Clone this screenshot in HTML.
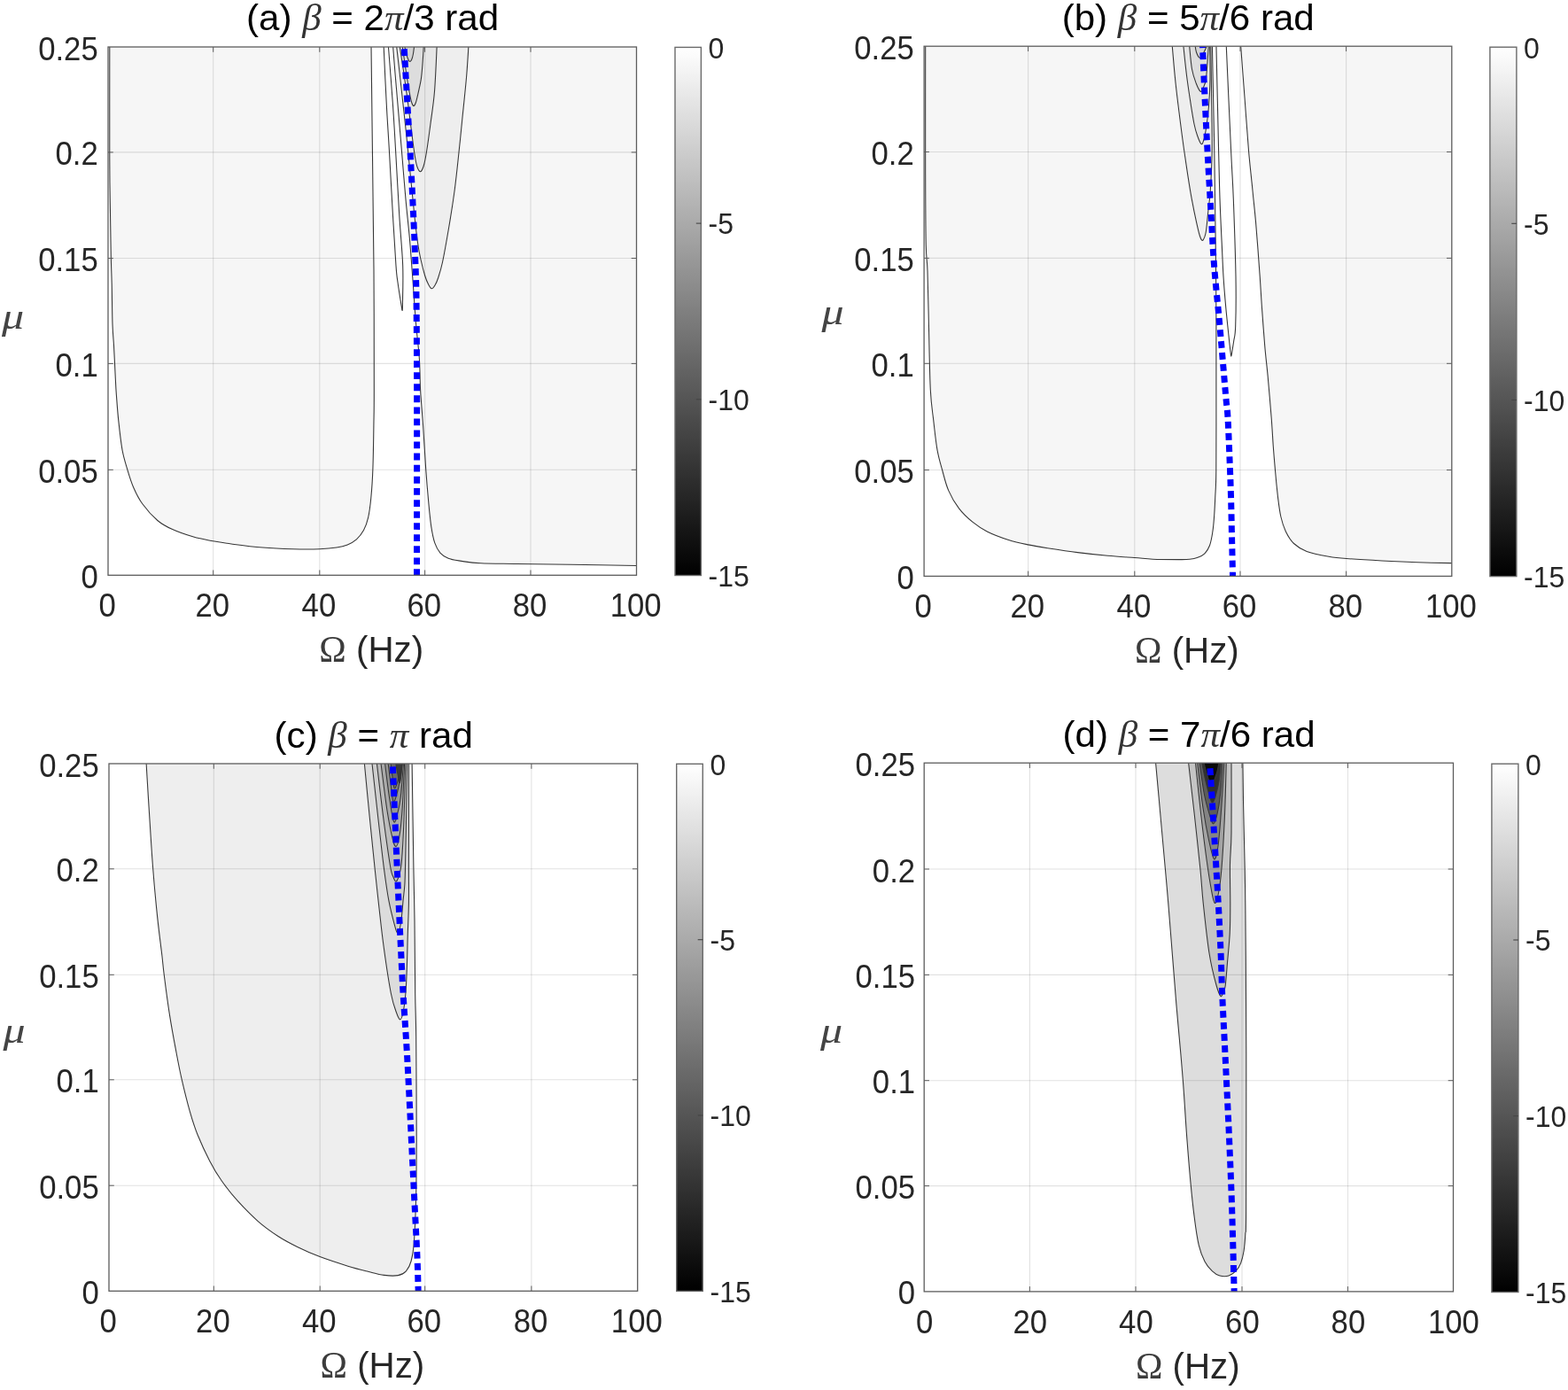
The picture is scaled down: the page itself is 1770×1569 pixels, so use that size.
<!DOCTYPE html>
<html lang="en">
<head>
<meta charset="utf-8">
<title>Contour maps versus frequency and mass ratio</title>
<style>
html,body{margin:0;padding:0;background:#fff;}
body{width:1770px;height:1569px;overflow:hidden;}
svg{display:block;}
</style>
</head>
<body>
<svg width="1770" height="1569" viewBox="0 0 1770 1569">
<rect width="1770" height="1569" fill="#fff"/>
<clipPath id="clip1"><rect x="122" y="53" width="596.5" height="596.3"/></clipPath>
<g clip-path="url(#clip1)">
<path d="M123.8 51C123.8 72.5 123.7 148.5 123.8 180C123.9 211.5 124.2 221.7 124.5 240C124.8 258.3 125 276.7 125.3 290C125.6 303.3 125.9 307.3 126.2 320C126.5 332.7 126.6 354.3 127 366C127.4 377.7 128.1 382.7 128.5 390C128.9 397.3 129.2 403.8 129.5 410C129.8 416.2 130 421 130.3 427C130.6 433 130.8 438.2 131.4 446C132 453.8 132.6 463.6 133.7 473.9C134.8 484.2 136.3 498.4 138 507.8C139.7 517.2 141.8 523.2 143.9 530.3C146 537.4 147.9 543.8 150.7 550.2C153.5 556.6 156.3 562.6 160.8 568.8C165.3 575 172.2 582.7 177.8 587.5C183.5 592.3 187.9 594.5 194.7 597.6C201.5 600.7 210.9 603.9 218.5 606.1C226.1 608.3 233.2 609.4 240.5 610.8C247.8 612.1 253.2 613 262.5 614.2C271.8 615.4 285.1 617.1 296.4 618C307.7 618.9 319.6 619.4 330.3 619.7C341 620 352.5 620 360.8 619.7C369.1 619.4 374.8 618.8 380 618C385.2 617.2 388.5 616.4 392.2 614.9C395.9 613.4 399.3 611.5 402.4 608.8C405.4 606.1 408.3 602.7 410.5 598.6C412.7 594.5 414.2 590.5 415.6 584.4C417 578.3 417.9 571.2 418.8 562C419.7 552.8 420.4 542.7 420.9 529C421.4 515.3 421.7 494.8 421.9 480C422.1 465.2 422.3 469.2 422.3 440C422.3 410.8 422.3 349 422 305C421.7 261 421 218.3 420.5 176C420 133.7 419.2 71.8 419 51Z" fill="#f6f6f6"/>
<path d="M443.5 51C443.9 56.7 445.2 72.7 446.2 85C447.2 97.3 448.4 110.8 449.6 125C450.8 139.2 452 153.5 453.4 170C454.8 186.5 456.4 207.4 457.9 224C459.4 240.6 461.2 255.9 462.4 269.5C463.6 283.1 464.5 296.4 465.2 305.7C465.9 314.9 465.9 315.1 466.6 325C467.3 334.9 468.4 351.8 469.5 365C470.6 378.2 472.4 391.5 473.3 404C474.2 416.5 473.9 427.2 474.6 440C475.3 452.8 476.6 465.8 477.6 480.7C478.6 495.6 479.7 515.3 480.7 529.5C481.7 543.7 482.7 555.2 483.7 566.1C484.7 577 485.6 586.8 486.8 594.6C488 602.4 489.1 608 490.8 612.9C492.5 617.8 494.3 621.2 496.9 624.1C499.4 627 501.9 628.6 506.1 630.2C510.4 631.8 516.3 632.7 522.4 633.6C528.5 634.5 532.5 635.2 542.7 635.7C552.9 636.2 566.5 636.2 583.4 636.5C600.3 636.8 621.5 637 644.4 637.3C667.2 637.6 707.8 638.3 720.5 638.5L720.5 51Z" fill="#f6f6f6"/>
<path d="M529 51C528.6 56.7 527.8 72 526.7 85.2C525.6 98.5 523.7 116 522.2 130.5C520.8 145 519.5 157.9 518 172C516.5 186.1 515 201.2 513.1 215.2C511.2 229.2 509.1 242.5 506.8 256C504.5 269.5 501.6 286.3 499.5 296C497.4 305.7 495.9 309.7 494.5 314C493.1 318.3 492.2 320 491 322C489.8 324 488.5 326 487.3 325.8C486.1 325.6 484.9 323.5 483.6 321C482.3 318.5 481 315.7 479.6 311C478.2 306.3 476.4 299.2 475 293C473.6 286.8 472.8 282.8 471.5 274C470.2 265.2 468.8 252.3 467.5 240C466.2 227.7 465 215 463.5 200C462 185 460.3 167.5 458.5 150C456.7 132.5 454.3 111.5 452.5 95C450.7 78.5 448.3 58.3 447.5 51Z" fill="#eeeeee"/>
<path d="M493.2 51C492.8 59.7 491.7 88.5 490.5 103.3C489.3 118 487.5 128.1 486 139.5C484.5 150.9 482.7 164.1 481.4 172C480.1 179.9 479.4 183.4 478.3 187C477.2 190.6 475.9 193.4 474.7 193.7C473.5 194 472.3 191.9 471.2 189C470.1 186.1 469.3 182.2 468.3 176C467.3 169.8 466.2 161.3 465 152C463.8 142.7 462.6 132 461 120C459.4 108 457.2 91.5 455.5 80C453.8 68.5 451.8 55.8 451 51Z" fill="#e6e6e6"/>
<path d="M478.3 51C478.1 54.5 477.5 65.6 477 72.1C476.5 78.6 476.1 84.2 475.2 90.2C474.2 96.2 472.3 104 471.3 108.3C470.3 112.6 470 114.1 469.3 116C468.6 117.9 467.8 119.6 467 119.6C466.2 119.6 465.6 118.4 464.8 116C464 113.6 463.3 110.2 462.3 105C461.3 99.8 460.4 94 459 85C457.6 76 454.8 56.7 454 51Z" fill="#dddddd"/>
<path d="M467.7 51C467.5 52.7 466.9 58.3 466.4 61C465.9 63.7 465.4 65.6 464.8 67C464.2 68.4 463.5 69.4 462.9 69.5C462.3 69.6 461.6 68.8 461 67.5C460.4 66.2 459.8 64.8 459 62C458.2 59.2 456.9 52.8 456.5 51Z" fill="#d4d4d4"/>
<g fill="none" stroke="#363636" stroke-width="1.08" stroke-linejoin="round">
<path d="M123.8 51C123.8 72.5 123.7 148.5 123.8 180C123.9 211.5 124.2 221.7 124.5 240C124.8 258.3 125 276.7 125.3 290C125.6 303.3 125.9 307.3 126.2 320C126.5 332.7 126.6 354.3 127 366C127.4 377.7 128.1 382.7 128.5 390C128.9 397.3 129.2 403.8 129.5 410C129.8 416.2 130 421 130.3 427C130.6 433 130.8 438.2 131.4 446C132 453.8 132.6 463.6 133.7 473.9C134.8 484.2 136.3 498.4 138 507.8C139.7 517.2 141.8 523.2 143.9 530.3C146 537.4 147.9 543.8 150.7 550.2C153.5 556.6 156.3 562.6 160.8 568.8C165.3 575 172.2 582.7 177.8 587.5C183.5 592.3 187.9 594.5 194.7 597.6C201.5 600.7 210.9 603.9 218.5 606.1C226.1 608.3 233.2 609.4 240.5 610.8C247.8 612.1 253.2 613 262.5 614.2C271.8 615.4 285.1 617.1 296.4 618C307.7 618.9 319.6 619.4 330.3 619.7C341 620 352.5 620 360.8 619.7C369.1 619.4 374.8 618.8 380 618C385.2 617.2 388.5 616.4 392.2 614.9C395.9 613.4 399.3 611.5 402.4 608.8C405.4 606.1 408.3 602.7 410.5 598.6C412.7 594.5 414.2 590.5 415.6 584.4C417 578.3 417.9 571.2 418.8 562C419.7 552.8 420.4 542.7 420.9 529C421.4 515.3 421.7 494.8 421.9 480C422.1 465.2 422.3 469.2 422.3 440C422.3 410.8 422.3 349 422 305C421.7 261 421 218.3 420.5 176C420 133.7 419.2 71.8 419 51"/>
<path d="M443.5 51C443.9 56.7 445.2 72.7 446.2 85C447.2 97.3 448.4 110.8 449.6 125C450.8 139.2 452 153.5 453.4 170C454.8 186.5 456.4 207.4 457.9 224C459.4 240.6 461.2 255.9 462.4 269.5C463.6 283.1 464.5 296.4 465.2 305.7C465.9 314.9 465.9 315.1 466.6 325C467.3 334.9 468.4 351.8 469.5 365C470.6 378.2 472.4 391.5 473.3 404C474.2 416.5 473.9 427.2 474.6 440C475.3 452.8 476.6 465.8 477.6 480.7C478.6 495.6 479.7 515.3 480.7 529.5C481.7 543.7 482.7 555.2 483.7 566.1C484.7 577 485.6 586.8 486.8 594.6C488 602.4 489.1 608 490.8 612.9C492.5 617.8 494.3 621.2 496.9 624.1C499.4 627 501.9 628.6 506.1 630.2C510.4 631.8 516.3 632.7 522.4 633.6C528.5 634.5 532.5 635.2 542.7 635.7C552.9 636.2 566.5 636.2 583.4 636.5C600.3 636.8 621.5 637 644.4 637.3C667.2 637.6 707.8 638.3 720.5 638.5"/>
<path d="M529 51C528.6 56.7 527.8 72 526.7 85.2C525.6 98.5 523.7 116 522.2 130.5C520.8 145 519.5 157.9 518 172C516.5 186.1 515 201.2 513.1 215.2C511.2 229.2 509.1 242.5 506.8 256C504.5 269.5 501.6 286.3 499.5 296C497.4 305.7 495.9 309.7 494.5 314C493.1 318.3 492.2 320 491 322C489.8 324 488.5 326 487.3 325.8C486.1 325.6 484.9 323.5 483.6 321C482.3 318.5 481 315.7 479.6 311C478.2 306.3 476.4 299.2 475 293C473.6 286.8 472.8 282.8 471.5 274C470.2 265.2 468.8 252.3 467.5 240C466.2 227.7 465 215 463.5 200C462 185 460.3 167.5 458.5 150C456.7 132.5 454.3 111.5 452.5 95C450.7 78.5 448.3 58.3 447.5 51"/>
<path d="M493.2 51C492.8 59.7 491.7 88.5 490.5 103.3C489.3 118 487.5 128.1 486 139.5C484.5 150.9 482.7 164.1 481.4 172C480.1 179.9 479.4 183.4 478.3 187C477.2 190.6 475.9 193.4 474.7 193.7C473.5 194 472.3 191.9 471.2 189C470.1 186.1 469.3 182.2 468.3 176C467.3 169.8 466.2 161.3 465 152C463.8 142.7 462.6 132 461 120C459.4 108 457.2 91.5 455.5 80C453.8 68.5 451.8 55.8 451 51"/>
<path d="M478.3 51C478.1 54.5 477.5 65.6 477 72.1C476.5 78.6 476.1 84.2 475.2 90.2C474.2 96.2 472.3 104 471.3 108.3C470.3 112.6 470 114.1 469.3 116C468.6 117.9 467.8 119.6 467 119.6C466.2 119.6 465.6 118.4 464.8 116C464 113.6 463.3 110.2 462.3 105C461.3 99.8 460.4 94 459 85C457.6 76 454.8 56.7 454 51"/>
<path d="M467.7 51C467.5 52.7 466.9 58.3 466.4 61C465.9 63.7 465.4 65.6 464.8 67C464.2 68.4 463.5 69.4 462.9 69.5C462.3 69.6 461.6 68.8 461 67.5C460.4 66.2 459.8 64.8 459 62C458.2 59.2 456.9 52.8 456.5 51"/>
<path d="M433.1 51C433.6 61.8 435.1 96.2 436.2 116C437.2 135.8 438.2 149 439.4 170C440.6 191 442.1 220.3 443.4 242C444.7 263.7 446.1 287.3 447 300C447.9 312.7 448.1 312 448.9 318C449.7 324 450.9 331.2 451.6 336C452.4 340.8 453 344.7 453.4 347C453.8 349.3 453.7 350.3 453.9 350C454.1 349.7 454.3 353.3 454.4 345C454.5 336.7 455.3 317.2 454.7 300C454.1 282.8 452 263.7 450.7 242C449.4 220.3 447.8 191 446.6 170C445.4 149 444.7 135.8 443.3 116C441.9 96.2 439.1 61.8 438.3 51"/>
</g>
<g stroke="#262626" stroke-opacity="0.135" stroke-width="1.1">
<line x1="240.7" y1="53" x2="240.7" y2="649.3"/>
<line x1="360.8" y1="53" x2="360.8" y2="649.3"/>
<line x1="479.6" y1="53" x2="479.6" y2="649.3"/>
<line x1="599" y1="53" x2="599" y2="649.3"/>
<line x1="122" y1="171.9" x2="718.5" y2="171.9"/>
<line x1="122" y1="291.5" x2="718.5" y2="291.5"/>
<line x1="122" y1="410.4" x2="718.5" y2="410.4"/>
<line x1="122" y1="530.3" x2="718.5" y2="530.3"/>
</g>
<path d="M456.1 51C456.7 61.8 458.6 95.2 459.8 116C461 136.8 462.2 155.3 463.3 176C464.4 196.7 465.5 218.5 466.5 240C467.5 261.5 468.6 287.5 469.2 305C469.8 322.5 469.9 322.5 470.1 345C470.3 367.5 470.5 388.9 470.6 440C470.7 491.1 470.5 616.1 470.5 651.3" fill="none" stroke="#0000ff" stroke-width="7" stroke-dasharray="7.8 5.25" stroke-dashoffset="8.7"/>
</g>
<g fill="none" stroke="#5c5c5c" stroke-width="1.3">
<rect x="122" y="53" width="596.5" height="596.3"/>
</g><g fill="none" stroke="#5c5c5c" stroke-width="1">
<path d="M240.7 649.3v-5.8 M240.7 53v5.8"/>
<path d="M360.8 649.3v-5.8 M360.8 53v5.8"/>
<path d="M479.6 649.3v-5.8 M479.6 53v5.8"/>
<path d="M599 649.3v-5.8 M599 53v5.8"/>
<path d="M122 171.9h5.8 M718.5 171.9h-5.8"/>
<path d="M122 291.5h5.8 M718.5 291.5h-5.8"/>
<path d="M122 410.4h5.8 M718.5 410.4h-5.8"/>
<path d="M122 530.3h5.8 M718.5 530.3h-5.8"/>
</g>
<g font-family="'Liberation Sans', Arial, sans-serif" font-size="34.7" fill="#262626">
<text transform="translate(121.1 696.2) scale(1 1.04)" text-anchor="middle">0</text>
<text transform="translate(239.8 696.2) scale(1 1.04)" text-anchor="middle">20</text>
<text transform="translate(359.9 696.2) scale(1 1.04)" text-anchor="middle">40</text>
<text transform="translate(478.7 696.2) scale(1 1.04)" text-anchor="middle">60</text>
<text transform="translate(598.1 696.2) scale(1 1.04)" text-anchor="middle">80</text>
<text transform="translate(717.6 696.2) scale(1 1.04)" text-anchor="middle">100</text>
<text transform="translate(110.7 67.5) scale(1 1.04)" text-anchor="end">0.25</text>
<text transform="translate(110.7 186.4) scale(1 1.04)" text-anchor="end">0.2</text>
<text transform="translate(110.7 306) scale(1 1.04)" text-anchor="end">0.15</text>
<text transform="translate(110.7 424.9) scale(1 1.04)" text-anchor="end">0.1</text>
<text transform="translate(110.7 544.8) scale(1 1.04)" text-anchor="end">0.05</text>
<text transform="translate(110.7 663.8) scale(1 1.04)" text-anchor="end">0</text>
</g>
<text transform="translate(419.2 747.1) scale(1 1.02)" text-anchor="middle" font-family="'Liberation Sans', Arial, sans-serif" font-size="40.3" fill="#262626"><tspan font-family="'Liberation Serif', 'DejaVu Serif', serif" font-size="41" fill="#3c3c3c">Ω</tspan> (Hz)</text>
<text transform="translate(14.5 370.6) scale(1.22 1)" text-anchor="middle" font-family="'Liberation Serif', 'DejaVu Serif', serif" font-style="italic" font-size="41" fill="#444">μ</text>
<text transform="translate(420.6 33.5) scale(1 0.975)" text-anchor="middle" font-family="'Liberation Sans', Arial, sans-serif" font-size="42.1" fill="#000">(a) <tspan font-family="'Liberation Serif', 'DejaVu Serif', serif" font-style="italic" font-size="43" fill="#333">β</tspan> = 2<tspan font-family="'Liberation Serif', 'DejaVu Serif', serif" font-style="italic" font-size="43" fill="#333">π</tspan>/3 rad</text>
<linearGradient id="cbg1" x1="0" y1="0" x2="0" y2="1"><stop offset="0" stop-color="#fff"/><stop offset="1" stop-color="#000"/></linearGradient>
<rect x="762" y="53.4" width="29.4" height="596.1" fill="url(#cbg1)" stroke="#6a6a6a" stroke-width="1.4"/>
<g stroke="#444" stroke-width="1.1">
<path d="M791.4 252.1h-5.6"/>
<path d="M791.4 450.8h-5.6"/>
</g>
<g font-family="'Liberation Sans', Arial, sans-serif" font-size="32" fill="#262626">
<text transform="translate(799.6 65.7) scale(1 1.04)">0</text>
<text transform="translate(799.6 264.4) scale(1 1.04)">-5</text>
<text transform="translate(799.6 463.1) scale(1 1.04)">-10</text>
<text transform="translate(799.6 661.8) scale(1 1.04)">-15</text>
</g>
<clipPath id="clip2"><rect x="1043.1" y="52.2" width="595.7" height="598.2"/></clipPath>
<g clip-path="url(#clip2)">
<path d="M1044.7 50.2C1044.7 74.7 1044.6 159.2 1044.7 197C1044.8 234.8 1044.9 258.8 1045.3 277C1045.7 295.2 1046.5 290.5 1047 306C1047.5 321.5 1048 347.7 1048.5 370C1049 392.3 1049.4 422.7 1050.3 440C1051.2 457.3 1052.4 462.6 1053.7 473.9C1055 485.2 1056.3 498.2 1058 507.8C1059.7 517.4 1061.8 523.9 1063.9 531.5C1066 539.1 1067.6 546.5 1070.7 553.6C1073.8 560.7 1078 568 1082.5 573.9C1087 579.8 1092.4 584.8 1097.8 589.2C1103.2 593.6 1107.9 596.8 1114.7 600.2C1121.5 603.6 1130.9 607 1138.5 609.5C1146.1 612 1153.2 613.4 1160.5 614.9C1167.8 616.4 1173.2 617.3 1182.5 618.8C1191.8 620.2 1205.1 622.2 1216.4 623.6C1227.7 625 1239.6 626.3 1250.3 627.3C1261 628.3 1272.3 628.9 1280.8 629.5C1289.3 630.1 1293 630.9 1301.2 631.2C1309.4 631.6 1323 631.6 1330 631.6C1337 631.6 1339.2 631.7 1342.9 631.3C1346.6 630.9 1349.2 630.4 1352 629.3C1354.8 628.2 1357.7 627 1359.9 624.8C1362.2 622.5 1364 619.9 1365.5 615.8C1367 611.7 1368.1 605.5 1368.9 600C1369.8 594.5 1370.1 589.6 1370.6 583C1371.1 576.4 1371.4 569.1 1371.8 560.4C1372.2 551.7 1372.6 551.1 1372.8 531C1373 510.9 1372.9 468.2 1372.9 440C1372.9 411.8 1373 385.3 1372.9 362C1372.8 338.7 1372.7 323 1372.5 300C1372.3 277 1371.8 245.7 1371.5 224C1371.2 202.3 1371.1 189 1370.8 170C1370.5 151 1370 130 1369.6 110C1369.2 90 1368.6 60.2 1368.4 50.2Z" fill="#f6f6f6"/>
<path d="M1323.1 50.2C1323.8 57.6 1325.5 79.4 1327.1 94.3C1328.7 109.2 1331 126.9 1332.6 139.5C1334.2 152.1 1335.3 160.4 1336.7 170C1338.1 179.6 1339.3 188 1340.7 197.1C1342.1 206.2 1343.5 215.2 1345.2 224.3C1346.9 233.4 1349.2 244.6 1350.7 251.4C1352.2 258.2 1353 261.7 1354 265C1355 268.3 1356.1 270.9 1357 271.4C1357.9 271.9 1358.8 269.8 1359.6 268C1360.3 266.2 1360.8 265.4 1361.5 260.5C1362.2 255.6 1363 246.4 1363.8 238.8C1364.6 231.2 1365.6 226.5 1366.3 215C1367 203.5 1368 187.5 1368.2 170C1368.4 152.5 1367.8 130 1367.6 110C1367.4 90 1366.9 60.2 1366.8 50.2Z" fill="#eeeeee"/>
<path d="M1335.7 50.2C1336.3 56 1338.2 74.6 1339.5 85C1340.8 95.4 1342 103.2 1343.4 112.4C1344.8 121.6 1346.6 133.2 1348 140C1349.4 146.8 1350.2 149.2 1351.6 153C1352.9 156.8 1354.9 161.8 1356.1 162.6C1357.3 163.4 1358 160.4 1358.8 158C1359.6 155.6 1360 154.3 1361 148C1362 141.7 1363.7 129.7 1364.5 120C1365.3 110.3 1365.8 101.6 1366 90C1366.2 78.4 1365.7 56.8 1365.6 50.2Z" fill="#e6e6e6"/>
<path d="M1342.5 50.2C1343 54.8 1344.2 70.7 1345.5 78C1346.8 85.3 1348.6 89.8 1350.2 94C1351.8 98.2 1353.9 102.5 1355.2 103.3C1356.5 104.1 1357.2 101.5 1358.2 99C1359.2 96.5 1360.5 96.1 1361.5 88C1362.5 79.9 1363.9 56.5 1364.4 50.2Z" fill="#dddddd"/>
<path d="M1348.9 50.2C1349.2 51.7 1349.6 56.5 1350.5 59C1351.4 61.5 1353 65 1354.3 65.3C1355.5 65.6 1356.5 63.5 1358 61C1359.5 58.5 1362.3 52 1363.2 50.2Z" fill="#d4d4d4"/>
<path d="M1400.5 50.2C1401.2 60.2 1403.5 90 1405 110C1406.5 130 1408 152.5 1409.5 170C1411 187.5 1412.7 201.6 1414 215.2C1415.3 228.8 1416.2 235.3 1417.6 251.4C1419 267.5 1421.1 296.4 1422.2 312C1423.3 327.6 1423.4 332 1424.3 345C1425.2 358 1426.6 376.8 1427.7 390C1428.8 403.2 1429.8 410.3 1431.1 424C1432.3 437.7 1434.2 458.7 1435.2 472C1436.2 485.3 1436.6 494.2 1437.3 504C1438 513.8 1438.7 521.6 1439.5 531C1440.3 540.4 1441.4 551.7 1442.4 560.4C1443.5 569.1 1444.3 576.4 1445.8 583C1447.3 589.6 1449 594.9 1451.4 600C1453.9 605.1 1456.5 609.8 1460.5 613.5C1464.5 617.2 1468.5 620 1475.1 622.5C1481.7 625 1492.5 626.9 1500 628.2C1507.5 629.5 1510 629.7 1520 630.5C1530 631.3 1546.7 632.3 1560 633C1573.3 633.7 1586.5 634.3 1600 634.8C1613.5 635.2 1634 635.6 1640.8 635.7L1640.8 50.2Z" fill="#f6f6f6"/>
<g fill="none" stroke="#363636" stroke-width="1.08" stroke-linejoin="round">
<path d="M1044.7 50.2C1044.7 74.7 1044.6 159.2 1044.7 197C1044.8 234.8 1044.9 258.8 1045.3 277C1045.7 295.2 1046.5 290.5 1047 306C1047.5 321.5 1048 347.7 1048.5 370C1049 392.3 1049.4 422.7 1050.3 440C1051.2 457.3 1052.4 462.6 1053.7 473.9C1055 485.2 1056.3 498.2 1058 507.8C1059.7 517.4 1061.8 523.9 1063.9 531.5C1066 539.1 1067.6 546.5 1070.7 553.6C1073.8 560.7 1078 568 1082.5 573.9C1087 579.8 1092.4 584.8 1097.8 589.2C1103.2 593.6 1107.9 596.8 1114.7 600.2C1121.5 603.6 1130.9 607 1138.5 609.5C1146.1 612 1153.2 613.4 1160.5 614.9C1167.8 616.4 1173.2 617.3 1182.5 618.8C1191.8 620.2 1205.1 622.2 1216.4 623.6C1227.7 625 1239.6 626.3 1250.3 627.3C1261 628.3 1272.3 628.9 1280.8 629.5C1289.3 630.1 1293 630.9 1301.2 631.2C1309.4 631.6 1323 631.6 1330 631.6C1337 631.6 1339.2 631.7 1342.9 631.3C1346.6 630.9 1349.2 630.4 1352 629.3C1354.8 628.2 1357.7 627 1359.9 624.8C1362.2 622.5 1364 619.9 1365.5 615.8C1367 611.7 1368.1 605.5 1368.9 600C1369.8 594.5 1370.1 589.6 1370.6 583C1371.1 576.4 1371.4 569.1 1371.8 560.4C1372.2 551.7 1372.6 551.1 1372.8 531C1373 510.9 1372.9 468.2 1372.9 440C1372.9 411.8 1373 385.3 1372.9 362C1372.8 338.7 1372.7 323 1372.5 300C1372.3 277 1371.8 245.7 1371.5 224C1371.2 202.3 1371.1 189 1370.8 170C1370.5 151 1370 130 1369.6 110C1369.2 90 1368.6 60.2 1368.4 50.2"/>
<path d="M1323.1 50.2C1323.8 57.6 1325.5 79.4 1327.1 94.3C1328.7 109.2 1331 126.9 1332.6 139.5C1334.2 152.1 1335.3 160.4 1336.7 170C1338.1 179.6 1339.3 188 1340.7 197.1C1342.1 206.2 1343.5 215.2 1345.2 224.3C1346.9 233.4 1349.2 244.6 1350.7 251.4C1352.2 258.2 1353 261.7 1354 265C1355 268.3 1356.1 270.9 1357 271.4C1357.9 271.9 1358.8 269.8 1359.6 268C1360.3 266.2 1360.8 265.4 1361.5 260.5C1362.2 255.6 1363 246.4 1363.8 238.8C1364.6 231.2 1365.6 226.5 1366.3 215C1367 203.5 1368 187.5 1368.2 170C1368.4 152.5 1367.8 130 1367.6 110C1367.4 90 1366.9 60.2 1366.8 50.2"/>
<path d="M1335.7 50.2C1336.3 56 1338.2 74.6 1339.5 85C1340.8 95.4 1342 103.2 1343.4 112.4C1344.8 121.6 1346.6 133.2 1348 140C1349.4 146.8 1350.2 149.2 1351.6 153C1352.9 156.8 1354.9 161.8 1356.1 162.6C1357.3 163.4 1358 160.4 1358.8 158C1359.6 155.6 1360 154.3 1361 148C1362 141.7 1363.7 129.7 1364.5 120C1365.3 110.3 1365.8 101.6 1366 90C1366.2 78.4 1365.7 56.8 1365.6 50.2"/>
<path d="M1342.5 50.2C1343 54.8 1344.2 70.7 1345.5 78C1346.8 85.3 1348.6 89.8 1350.2 94C1351.8 98.2 1353.9 102.5 1355.2 103.3C1356.5 104.1 1357.2 101.5 1358.2 99C1359.2 96.5 1360.5 96.1 1361.5 88C1362.5 79.9 1363.9 56.5 1364.4 50.2"/>
<path d="M1348.9 50.2C1349.2 51.7 1349.6 56.5 1350.5 59C1351.4 61.5 1353 65 1354.3 65.3C1355.5 65.6 1356.5 63.5 1358 61C1359.5 58.5 1362.3 52 1363.2 50.2"/>
<path d="M1372.9 50.2C1373.4 70.2 1374.9 141 1375.6 170C1376.3 199 1376.4 205.9 1377 224C1377.6 242.1 1378.7 263.9 1379.4 278.6C1380.1 293.3 1380.3 300.9 1381 312C1381.7 323.1 1382.6 334 1383.6 345.2C1384.6 356.4 1386.1 370.4 1387 379C1387.9 387.6 1388.5 393.1 1389 397C1389.5 400.9 1389.5 402.3 1389.8 402.3C1390.1 402.3 1390.3 399.9 1390.8 397C1391.3 394.1 1392 389.8 1392.7 385C1393.4 380.2 1394.3 380.2 1394.7 368C1395.1 355.8 1395.4 335.9 1395 312C1394.6 288.1 1393.2 248 1392.3 224.3C1391.4 200.6 1390.9 199 1389.6 170C1388.2 141 1385.1 70.2 1384.2 50.2"/>
<path d="M1400.5 50.2C1401.2 60.2 1403.5 90 1405 110C1406.5 130 1408 152.5 1409.5 170C1411 187.5 1412.7 201.6 1414 215.2C1415.3 228.8 1416.2 235.3 1417.6 251.4C1419 267.5 1421.1 296.4 1422.2 312C1423.3 327.6 1423.4 332 1424.3 345C1425.2 358 1426.6 376.8 1427.7 390C1428.8 403.2 1429.8 410.3 1431.1 424C1432.3 437.7 1434.2 458.7 1435.2 472C1436.2 485.3 1436.6 494.2 1437.3 504C1438 513.8 1438.7 521.6 1439.5 531C1440.3 540.4 1441.4 551.7 1442.4 560.4C1443.5 569.1 1444.3 576.4 1445.8 583C1447.3 589.6 1449 594.9 1451.4 600C1453.9 605.1 1456.5 609.8 1460.5 613.5C1464.5 617.2 1468.5 620 1475.1 622.5C1481.7 625 1492.5 626.9 1500 628.2C1507.5 629.5 1510 629.7 1520 630.5C1530 631.3 1546.7 632.3 1560 633C1573.3 633.7 1586.5 634.3 1600 634.8C1613.5 635.2 1634 635.6 1640.8 635.7"/>
</g>
<g stroke="#262626" stroke-opacity="0.135" stroke-width="1.1">
<line x1="1160.6" y1="52.2" x2="1160.6" y2="650.4"/>
<line x1="1280.8" y1="52.2" x2="1280.8" y2="650.4"/>
<line x1="1400" y1="52.2" x2="1400" y2="650.4"/>
<line x1="1519.6" y1="52.2" x2="1519.6" y2="650.4"/>
<line x1="1043.1" y1="171.5" x2="1638.8" y2="171.5"/>
<line x1="1043.1" y1="291.4" x2="1638.8" y2="291.4"/>
<line x1="1043.1" y1="410.3" x2="1638.8" y2="410.3"/>
<line x1="1043.1" y1="530.5" x2="1638.8" y2="530.5"/>
</g>
<path d="M1357.4 50.2C1357.9 61.2 1359.3 95 1360.3 116C1361.3 137 1362.2 155.3 1363.3 176C1364.4 196.7 1365.8 219.3 1367 240C1368.2 260.7 1369 279.8 1370.6 300C1372.1 320.2 1374.6 342.2 1376.3 361C1378 379.8 1379.5 397.8 1380.8 413C1382.1 428.2 1383.3 443 1384.2 452.5C1385.1 462 1385.2 458.8 1385.9 470C1386.6 481.2 1387.5 505 1388.1 520C1388.7 535 1389.1 546.7 1389.5 560C1389.9 573.3 1390.1 584.6 1390.4 600C1390.8 615.4 1391.4 643.7 1391.6 652.4" fill="none" stroke="#0000ff" stroke-width="7" stroke-dasharray="7.8 5.25" stroke-dashoffset="3.8"/>
</g>
<g fill="none" stroke="#5c5c5c" stroke-width="1.3">
<rect x="1043.1" y="52.2" width="595.7" height="598.2"/>
</g><g fill="none" stroke="#5c5c5c" stroke-width="1">
<path d="M1160.6 650.4v-5.8 M1160.6 52.2v5.8"/>
<path d="M1280.8 650.4v-5.8 M1280.8 52.2v5.8"/>
<path d="M1400 650.4v-5.8 M1400 52.2v5.8"/>
<path d="M1519.6 650.4v-5.8 M1519.6 52.2v5.8"/>
<path d="M1043.1 171.5h5.8 M1638.8 171.5h-5.8"/>
<path d="M1043.1 291.4h5.8 M1638.8 291.4h-5.8"/>
<path d="M1043.1 410.3h5.8 M1638.8 410.3h-5.8"/>
<path d="M1043.1 530.5h5.8 M1638.8 530.5h-5.8"/>
</g>
<g font-family="'Liberation Sans', Arial, sans-serif" font-size="34.7" fill="#262626">
<text transform="translate(1042.2 697.3) scale(1 1.04)" text-anchor="middle">0</text>
<text transform="translate(1159.7 697.3) scale(1 1.04)" text-anchor="middle">20</text>
<text transform="translate(1279.9 697.3) scale(1 1.04)" text-anchor="middle">40</text>
<text transform="translate(1399.1 697.3) scale(1 1.04)" text-anchor="middle">60</text>
<text transform="translate(1518.7 697.3) scale(1 1.04)" text-anchor="middle">80</text>
<text transform="translate(1637.9 697.3) scale(1 1.04)" text-anchor="middle">100</text>
<text transform="translate(1031.8 66.7) scale(1 1.04)" text-anchor="end">0.25</text>
<text transform="translate(1031.8 186) scale(1 1.04)" text-anchor="end">0.2</text>
<text transform="translate(1031.8 305.9) scale(1 1.04)" text-anchor="end">0.15</text>
<text transform="translate(1031.8 424.8) scale(1 1.04)" text-anchor="end">0.1</text>
<text transform="translate(1031.8 545) scale(1 1.04)" text-anchor="end">0.05</text>
<text transform="translate(1031.8 664.9) scale(1 1.04)" text-anchor="end">0</text>
</g>
<text transform="translate(1339.9 748.2) scale(1 1.02)" text-anchor="middle" font-family="'Liberation Sans', Arial, sans-serif" font-size="40.3" fill="#262626"><tspan font-family="'Liberation Serif', 'DejaVu Serif', serif" font-size="41" fill="#3c3c3c">Ω</tspan> (Hz)</text>
<text transform="translate(940 365.8) scale(1.22 1)" text-anchor="middle" font-family="'Liberation Serif', 'DejaVu Serif', serif" font-style="italic" font-size="41" fill="#444">μ</text>
<text transform="translate(1341.2 33.5) scale(1 0.975)" text-anchor="middle" font-family="'Liberation Sans', Arial, sans-serif" font-size="42.1" fill="#000">(b) <tspan font-family="'Liberation Serif', 'DejaVu Serif', serif" font-style="italic" font-size="43" fill="#333">β</tspan> = 5<tspan font-family="'Liberation Serif', 'DejaVu Serif', serif" font-style="italic" font-size="43" fill="#333">π</tspan>/6 rad</text>
<linearGradient id="cbg2" x1="0" y1="0" x2="0" y2="1"><stop offset="0" stop-color="#fff"/><stop offset="1" stop-color="#000"/></linearGradient>
<rect x="1681.9" y="53.2" width="30" height="597.4" fill="url(#cbg2)" stroke="#6a6a6a" stroke-width="1.4"/>
<g stroke="#444" stroke-width="1.1">
<path d="M1711.9 252.3h-5.6"/>
<path d="M1711.9 451.5h-5.6"/>
</g>
<g font-family="'Liberation Sans', Arial, sans-serif" font-size="32" fill="#262626">
<text transform="translate(1720.1 65.5) scale(1 1.04)">0</text>
<text transform="translate(1720.1 264.6) scale(1 1.04)">-5</text>
<text transform="translate(1720.1 463.8) scale(1 1.04)">-10</text>
<text transform="translate(1720.1 662.9) scale(1 1.04)">-15</text>
</g>
<clipPath id="clip3"><rect x="123" y="862" width="596.7" height="595.3"/></clipPath>
<g clip-path="url(#clip3)">
<path d="M165 860C165.6 869.6 167.2 897.7 168.5 917.8C169.8 937.9 171.1 961 172.7 980.8C174.2 1000.6 176.1 1020.1 177.8 1036.4C179.5 1052.7 181.7 1068.2 182.9 1078.8C184.1 1089.4 183.8 1088.9 185.2 1100C186.6 1111.1 189.2 1131.2 191.4 1145.2C193.6 1159.2 195.9 1171.6 198.2 1183.7C200.5 1195.8 202.3 1205.9 205 1217.6C207.7 1229.3 211.1 1243.2 214.1 1253.8C217.1 1264.4 219.3 1271.6 223.1 1281C226.9 1290.4 232.2 1301.7 236.7 1310.4C241.2 1319.1 245 1325.5 250.3 1333C255.6 1340.5 261.6 1348.2 268.4 1355.7C275.2 1363.2 283.5 1371.7 291 1378.3C298.5 1384.9 306.1 1390.3 313.6 1395.2C321.1 1400.1 328.3 1403.8 336.2 1407.7C344.1 1411.6 351.7 1415 361.1 1418.6C370.5 1422.2 383.8 1426.4 392.8 1429.2C401.9 1432 408.6 1433.6 415.4 1435.3C422.2 1437 427.8 1438.7 433.5 1439.4C439.2 1440.1 445.2 1440.4 449.4 1439.6C453.5 1438.8 455.9 1437.5 458.4 1434.8C460.8 1432.1 462.6 1429.2 464.1 1423.5C465.6 1417.8 466.6 1413.3 467.5 1400.9C468.4 1388.5 469.2 1368.9 469.7 1348.9C470.1 1328.9 470.2 1310.8 470.2 1281C470.2 1251.2 469.9 1196.6 469.7 1170.1C469.4 1143.6 469 1143.8 468.7 1122C468.4 1100.2 468.3 1062.7 468 1039C467.7 1015.3 467.4 1009.8 466.9 980C466.4 950.2 465.4 880 465.1 860Z" fill="#eeeeee"/>
<path d="M411.2 860C412.2 870.8 415.4 904.2 417.5 925C419.6 945.8 421.9 968.3 423.6 985C425.4 1001.7 426.4 1011 428 1025.2C429.6 1039.5 431.1 1054.4 433.4 1070.5C435.6 1086.6 439.1 1109.9 441.5 1122C443.9 1134.1 445.8 1138.2 447.5 1143C449.2 1147.8 450.4 1150.9 451.6 1150.9C452.9 1150.9 453.9 1148.2 455 1143C456.1 1137.8 457.3 1128.8 458 1120C458.7 1111.2 459 1100.5 459.4 1090C459.8 1079.5 459.9 1068.7 460.2 1057C460.5 1045.3 461.2 1032.8 461.4 1020C461.6 1007.2 461.4 1006.7 461.4 980C461.4 953.3 461.4 880 461.4 860Z" fill="#dcdcdc"/>
<path d="M419.8 860C421 870.8 424.7 905 427 925C429.3 945 431.4 964.8 433.4 980C435.4 995.2 436.8 1005.7 438.8 1016.2C440.8 1026.8 443.5 1037.1 445.2 1043.3C446.9 1049.5 447.6 1053.5 448.8 1053.3C450 1053.1 451.4 1048.2 452.5 1042C453.6 1035.8 454.4 1023.5 455.1 1016.2C455.8 1008.9 456.5 1004.9 456.9 998C457.3 991.1 457.3 988 457.6 975C457.9 962 458.3 939.2 458.6 920C458.9 900.8 459.4 870 459.6 860Z" fill="#cecece"/>
<path d="M425.2 860C426.5 870.8 430.4 905.3 433 925C435.6 944.7 438.8 967.2 440.6 978C442.4 988.8 442.9 987.2 444 990C445.1 992.8 445.9 995.3 447 995C448.1 994.7 449.4 991.8 450.5 988C451.6 984.2 452.5 982.5 453.4 972C454.3 961.5 455.3 943.7 456 925C456.7 906.3 457.5 870.8 457.8 860Z" fill="#bcbcbc"/>
<path d="M429.8 860C431 869.2 434.7 900.3 437 915C439.3 929.7 441.8 941.3 443.5 948C445.2 954.7 445.8 955.7 447 955.4C448.2 955.1 449.3 952.7 450.5 946C451.7 939.3 453 929.3 454 915C455 900.7 456.2 869.2 456.6 860Z" fill="#aaaaaa"/>
<path d="M434.3 860C435.2 866.7 437.8 888.7 439.5 900C441.2 911.3 443 925.3 444.7 927.8C446.4 930.3 448.1 920.5 449.5 915C450.9 909.5 451.8 904.2 452.8 895C453.8 885.8 455.1 865.8 455.6 860Z" fill="#969696"/>
<path d="M438 860C438.5 864.2 440 877.5 441 885C442 892.5 442.8 904.2 444.2 905C445.6 905.8 447.7 897.5 449.5 890C451.3 882.5 453.9 865 454.8 860Z" fill="#828282"/>
<path d="M441 860C441.3 862.8 442.2 872 443 877C443.8 882 444.2 890 445.5 890C446.8 890 449.1 882 450.5 877C451.9 872 453.4 862.8 454 860Z" fill="#686868"/>
<path d="M446.5 860C446.9 862.3 448.2 870 449 874C449.8 878 450.3 884 451 884C451.7 884 452.6 878 453 874C453.4 870 453.5 862.3 453.6 860Z" fill="#3c3c3c"/>
<g fill="none" stroke="#363636" stroke-width="1.08" stroke-linejoin="round">
<path d="M165 860C165.6 869.6 167.2 897.7 168.5 917.8C169.8 937.9 171.1 961 172.7 980.8C174.2 1000.6 176.1 1020.1 177.8 1036.4C179.5 1052.7 181.7 1068.2 182.9 1078.8C184.1 1089.4 183.8 1088.9 185.2 1100C186.6 1111.1 189.2 1131.2 191.4 1145.2C193.6 1159.2 195.9 1171.6 198.2 1183.7C200.5 1195.8 202.3 1205.9 205 1217.6C207.7 1229.3 211.1 1243.2 214.1 1253.8C217.1 1264.4 219.3 1271.6 223.1 1281C226.9 1290.4 232.2 1301.7 236.7 1310.4C241.2 1319.1 245 1325.5 250.3 1333C255.6 1340.5 261.6 1348.2 268.4 1355.7C275.2 1363.2 283.5 1371.7 291 1378.3C298.5 1384.9 306.1 1390.3 313.6 1395.2C321.1 1400.1 328.3 1403.8 336.2 1407.7C344.1 1411.6 351.7 1415 361.1 1418.6C370.5 1422.2 383.8 1426.4 392.8 1429.2C401.9 1432 408.6 1433.6 415.4 1435.3C422.2 1437 427.8 1438.7 433.5 1439.4C439.2 1440.1 445.2 1440.4 449.4 1439.6C453.5 1438.8 455.9 1437.5 458.4 1434.8C460.8 1432.1 462.6 1429.2 464.1 1423.5C465.6 1417.8 466.6 1413.3 467.5 1400.9C468.4 1388.5 469.2 1368.9 469.7 1348.9C470.1 1328.9 470.2 1310.8 470.2 1281C470.2 1251.2 469.9 1196.6 469.7 1170.1C469.4 1143.6 469 1143.8 468.7 1122C468.4 1100.2 468.3 1062.7 468 1039C467.7 1015.3 467.4 1009.8 466.9 980C466.4 950.2 465.4 880 465.1 860"/>
<path d="M411.2 860C412.2 870.8 415.4 904.2 417.5 925C419.6 945.8 421.9 968.3 423.6 985C425.4 1001.7 426.4 1011 428 1025.2C429.6 1039.5 431.1 1054.4 433.4 1070.5C435.6 1086.6 439.1 1109.9 441.5 1122C443.9 1134.1 445.8 1138.2 447.5 1143C449.2 1147.8 450.4 1150.9 451.6 1150.9C452.9 1150.9 453.9 1148.2 455 1143C456.1 1137.8 457.3 1128.8 458 1120C458.7 1111.2 459 1100.5 459.4 1090C459.8 1079.5 459.9 1068.7 460.2 1057C460.5 1045.3 461.2 1032.8 461.4 1020C461.6 1007.2 461.4 1006.7 461.4 980C461.4 953.3 461.4 880 461.4 860"/>
<path d="M419.8 860C421 870.8 424.7 905 427 925C429.3 945 431.4 964.8 433.4 980C435.4 995.2 436.8 1005.7 438.8 1016.2C440.8 1026.8 443.5 1037.1 445.2 1043.3C446.9 1049.5 447.6 1053.5 448.8 1053.3C450 1053.1 451.4 1048.2 452.5 1042C453.6 1035.8 454.4 1023.5 455.1 1016.2C455.8 1008.9 456.5 1004.9 456.9 998C457.3 991.1 457.3 988 457.6 975C457.9 962 458.3 939.2 458.6 920C458.9 900.8 459.4 870 459.6 860"/>
<path d="M425.2 860C426.5 870.8 430.4 905.3 433 925C435.6 944.7 438.8 967.2 440.6 978C442.4 988.8 442.9 987.2 444 990C445.1 992.8 445.9 995.3 447 995C448.1 994.7 449.4 991.8 450.5 988C451.6 984.2 452.5 982.5 453.4 972C454.3 961.5 455.3 943.7 456 925C456.7 906.3 457.5 870.8 457.8 860"/>
<path d="M429.8 860C431 869.2 434.7 900.3 437 915C439.3 929.7 441.8 941.3 443.5 948C445.2 954.7 445.8 955.7 447 955.4C448.2 955.1 449.3 952.7 450.5 946C451.7 939.3 453 929.3 454 915C455 900.7 456.2 869.2 456.6 860"/>
<path d="M434.3 860C435.2 866.7 437.8 888.7 439.5 900C441.2 911.3 443 925.3 444.7 927.8C446.4 930.3 448.1 920.5 449.5 915C450.9 909.5 451.8 904.2 452.8 895C453.8 885.8 455.1 865.8 455.6 860"/>
<path d="M438 860C438.5 864.2 440 877.5 441 885C442 892.5 442.8 904.2 444.2 905C445.6 905.8 447.7 897.5 449.5 890C451.3 882.5 453.9 865 454.8 860"/>
<path d="M441 860C441.3 862.8 442.2 872 443 877C443.8 882 444.2 890 445.5 890C446.8 890 449.1 882 450.5 877C451.9 872 453.4 862.8 454 860"/>
<path d="M446.5 860C446.9 862.3 448.2 870 449 874C449.8 878 450.3 884 451 884C451.7 884 452.6 878 453 874C453.4 870 453.5 862.3 453.6 860"/>
</g>
<g stroke="#262626" stroke-opacity="0.135" stroke-width="1.1">
<line x1="241.3" y1="862" x2="241.3" y2="1457.3"/>
<line x1="361.2" y1="862" x2="361.2" y2="1457.3"/>
<line x1="479.7" y1="862" x2="479.7" y2="1457.3"/>
<line x1="599.9" y1="862" x2="599.9" y2="1457.3"/>
<line x1="123" y1="980.8" x2="719.7" y2="980.8"/>
<line x1="123" y1="1100.3" x2="719.7" y2="1100.3"/>
<line x1="123" y1="1218.8" x2="719.7" y2="1218.8"/>
<line x1="123" y1="1338.2" x2="719.7" y2="1338.2"/>
</g>
<path d="M443.2 860C444.1 882 447 952 448.8 992C450.6 1032 452.8 1078.3 453.9 1100C454.9 1121.7 454.2 1106.9 455.1 1122C456 1137.1 458 1164 459.5 1190.5C461 1217 462.8 1254.6 464.1 1281C465.4 1307.4 466.4 1326.3 467.5 1348.9C468.6 1371.5 470.1 1398.3 470.9 1416.7C471.7 1435.1 472 1452.2 472.2 1459.3" fill="none" stroke="#0000ff" stroke-width="7" stroke-dasharray="7.8 5.25" stroke-dashoffset="7.7"/>
</g>
<g fill="none" stroke="#5c5c5c" stroke-width="1.3">
<rect x="123" y="862" width="596.7" height="595.3"/>
</g><g fill="none" stroke="#5c5c5c" stroke-width="1">
<path d="M241.3 1457.3v-5.8 M241.3 862v5.8"/>
<path d="M361.2 1457.3v-5.8 M361.2 862v5.8"/>
<path d="M479.7 1457.3v-5.8 M479.7 862v5.8"/>
<path d="M599.9 1457.3v-5.8 M599.9 862v5.8"/>
<path d="M123 980.8h5.8 M719.7 980.8h-5.8"/>
<path d="M123 1100.3h5.8 M719.7 1100.3h-5.8"/>
<path d="M123 1218.8h5.8 M719.7 1218.8h-5.8"/>
<path d="M123 1338.2h5.8 M719.7 1338.2h-5.8"/>
</g>
<g font-family="'Liberation Sans', Arial, sans-serif" font-size="34.7" fill="#262626">
<text transform="translate(122.1 1504.2) scale(1 1.04)" text-anchor="middle">0</text>
<text transform="translate(240.4 1504.2) scale(1 1.04)" text-anchor="middle">20</text>
<text transform="translate(360.3 1504.2) scale(1 1.04)" text-anchor="middle">40</text>
<text transform="translate(478.8 1504.2) scale(1 1.04)" text-anchor="middle">60</text>
<text transform="translate(599 1504.2) scale(1 1.04)" text-anchor="middle">80</text>
<text transform="translate(718.8 1504.2) scale(1 1.04)" text-anchor="middle">100</text>
<text transform="translate(111.7 876.5) scale(1 1.04)" text-anchor="end">0.25</text>
<text transform="translate(111.7 995.3) scale(1 1.04)" text-anchor="end">0.2</text>
<text transform="translate(111.7 1114.8) scale(1 1.04)" text-anchor="end">0.15</text>
<text transform="translate(111.7 1233.3) scale(1 1.04)" text-anchor="end">0.1</text>
<text transform="translate(111.7 1352.7) scale(1 1.04)" text-anchor="end">0.05</text>
<text transform="translate(111.7 1471.8) scale(1 1.04)" text-anchor="end">0</text>
</g>
<text transform="translate(420.4 1555.1) scale(1 1.02)" text-anchor="middle" font-family="'Liberation Sans', Arial, sans-serif" font-size="40.3" fill="#262626"><tspan font-family="'Liberation Serif', 'DejaVu Serif', serif" font-size="41" fill="#3c3c3c">Ω</tspan> (Hz)</text>
<text transform="translate(16 1177.2) scale(1.22 1)" text-anchor="middle" font-family="'Liberation Serif', 'DejaVu Serif', serif" font-style="italic" font-size="41" fill="#444">μ</text>
<text transform="translate(421.7 844.1) scale(1 0.975)" text-anchor="middle" font-family="'Liberation Sans', Arial, sans-serif" font-size="42.1" fill="#000">(c) <tspan font-family="'Liberation Serif', 'DejaVu Serif', serif" font-style="italic" font-size="43" fill="#333">β</tspan> = <tspan font-family="'Liberation Serif', 'DejaVu Serif', serif" font-style="italic" font-size="43" fill="#333">π</tspan> rad</text>
<linearGradient id="cbg3" x1="0" y1="0" x2="0" y2="1"><stop offset="0" stop-color="#fff"/><stop offset="1" stop-color="#000"/></linearGradient>
<rect x="763.7" y="862.3" width="29.6" height="595.1" fill="url(#cbg3)" stroke="#6a6a6a" stroke-width="1.4"/>
<g stroke="#444" stroke-width="1.1">
<path d="M793.3 1060.7h-5.6"/>
<path d="M793.3 1259h-5.6"/>
</g>
<g font-family="'Liberation Sans', Arial, sans-serif" font-size="32" fill="#262626">
<text transform="translate(801.5 874.6) scale(1 1.04)">0</text>
<text transform="translate(801.5 1073) scale(1 1.04)">-5</text>
<text transform="translate(801.5 1271.3) scale(1 1.04)">-10</text>
<text transform="translate(801.5 1469.7) scale(1 1.04)">-15</text>
</g>
<clipPath id="clip4"><rect x="1043.2" y="861.2" width="597.3" height="596.7"/></clipPath>
<g clip-path="url(#clip4)">
<path d="M1304.4 859.2C1305.3 869 1307.9 897.5 1309.7 917.8C1311.5 938.1 1313.9 964 1315.4 981C1316.9 998 1317.5 1004.1 1318.8 1020C1320.1 1035.9 1321.8 1057.7 1323.3 1076.5C1324.8 1095.3 1326.2 1114.1 1327.8 1133C1329.4 1151.9 1331.5 1173.4 1332.9 1190C1334.3 1206.6 1335.2 1216.9 1336.3 1232.4C1337.4 1247.9 1338.4 1266.2 1339.7 1283.2C1341 1300.2 1342.5 1319.1 1343.9 1334.1C1345.3 1349.1 1346.5 1361.2 1348.1 1373.1C1349.6 1385 1351.2 1396.8 1353.2 1405.3C1355.2 1413.8 1357.5 1419 1360 1423.9C1362.5 1428.8 1365.7 1432.2 1368.5 1434.9C1371.3 1437.6 1373.8 1439.2 1376.9 1440C1380 1440.8 1384 1441 1387.1 1440C1390.2 1439 1393.3 1436.5 1395.6 1434.1C1397.9 1431.7 1399.3 1429.3 1400.7 1425.6C1402.1 1421.9 1403.2 1417.4 1404.1 1412C1404.9 1406.6 1405.4 1400.7 1405.8 1393.4C1406.2 1386.1 1406.4 1401.9 1406.6 1368C1406.8 1334.1 1406.8 1238.2 1406.8 1190C1406.8 1141.8 1406.5 1107.1 1406.3 1078.8C1406.1 1050.5 1406 1036.5 1405.8 1020C1405.6 1003.5 1405.6 999.3 1405.2 980C1404.8 960.7 1403.9 924.1 1403.5 904C1403.1 883.9 1403 866.7 1402.9 859.2Z" fill="#dddddd"/>
<path d="M1341.4 859.2C1342.5 869 1345.8 897.5 1348.1 917.8C1350.3 938.1 1353.2 964 1354.9 981C1356.6 998 1356.6 1004.1 1358.3 1020C1360 1035.9 1362.6 1061.2 1365.1 1076.5C1367.5 1091.8 1370.8 1104 1373 1112C1375.2 1120 1376.7 1123.5 1378.1 1124.5C1379.5 1125.5 1380.7 1120 1381.5 1118C1382.3 1116 1382.5 1117.7 1383.2 1112.7C1383.9 1107.7 1384.6 1097.6 1385.4 1087.8C1386.2 1078 1387.6 1065.3 1388.2 1054C1388.8 1042.7 1388.8 1033.1 1388.8 1020C1388.8 1006.9 1388.3 988.7 1388.5 975.4C1388.7 962.1 1389.8 959.4 1390 940C1390.2 920.6 1390 872.7 1390 859.2Z" fill="#c4c4c4"/>
<path d="M1349.3 859.2C1350.3 869 1353.4 899.3 1355.5 917.8C1357.6 936.3 1360 955.5 1362 970C1364 984.5 1366 996.8 1367.5 1005C1369 1013.2 1370 1019 1371.3 1019.5C1372.6 1020 1374.2 1014.6 1375.5 1008C1376.8 1001.4 1377.8 994.7 1379 980C1380.2 965.3 1381.6 940.1 1382.5 920C1383.4 899.9 1384 869.3 1384.3 859.2Z" fill="#a4a4a4"/>
<path d="M1351.5 859.2C1352.6 868 1355.8 897.2 1358 912C1360.2 926.8 1362.4 938.4 1364.5 948C1366.6 957.6 1368.8 968.6 1370.5 969.8C1372.2 971 1373.7 964.1 1375 955C1376.3 945.9 1377.3 931 1378.5 915C1379.7 899 1381.4 868.5 1382 859.2Z" fill="#848484"/>
<path d="M1353.8 859.2C1354.8 865.5 1357.5 886.9 1359.5 897C1361.5 907.1 1363.8 914.5 1365.5 920C1367.2 925.5 1368.1 930 1369.5 930C1370.9 930 1372.5 925.5 1373.8 920C1375.1 914.5 1376.5 907.1 1377.5 897C1378.5 886.9 1379.6 865.5 1380 859.2Z" fill="#5c5c5c"/>
<path d="M1356.3 859.2C1357.1 863 1359.5 875.4 1361 882C1362.5 888.6 1364.2 895 1365.5 899C1366.8 903 1367.4 906 1368.5 906C1369.6 906 1370.8 903 1372 899C1373.2 895 1374.9 888.6 1376 882C1377.1 875.4 1378 863 1378.4 859.2Z" fill="#303030"/>
<path d="M1358.6 859.2C1359.2 861.7 1361 869.5 1362.5 874C1364 878.5 1365.7 886 1367.4 886C1369.2 886 1371.5 878.5 1373 874C1374.5 869.5 1375.8 861.7 1376.4 859.2Z" fill="#0a0a0a"/>
<g fill="none" stroke="#363636" stroke-width="1.08" stroke-linejoin="round">
<path d="M1304.4 859.2C1305.3 869 1307.9 897.5 1309.7 917.8C1311.5 938.1 1313.9 964 1315.4 981C1316.9 998 1317.5 1004.1 1318.8 1020C1320.1 1035.9 1321.8 1057.7 1323.3 1076.5C1324.8 1095.3 1326.2 1114.1 1327.8 1133C1329.4 1151.9 1331.5 1173.4 1332.9 1190C1334.3 1206.6 1335.2 1216.9 1336.3 1232.4C1337.4 1247.9 1338.4 1266.2 1339.7 1283.2C1341 1300.2 1342.5 1319.1 1343.9 1334.1C1345.3 1349.1 1346.5 1361.2 1348.1 1373.1C1349.6 1385 1351.2 1396.8 1353.2 1405.3C1355.2 1413.8 1357.5 1419 1360 1423.9C1362.5 1428.8 1365.7 1432.2 1368.5 1434.9C1371.3 1437.6 1373.8 1439.2 1376.9 1440C1380 1440.8 1384 1441 1387.1 1440C1390.2 1439 1393.3 1436.5 1395.6 1434.1C1397.9 1431.7 1399.3 1429.3 1400.7 1425.6C1402.1 1421.9 1403.2 1417.4 1404.1 1412C1404.9 1406.6 1405.4 1400.7 1405.8 1393.4C1406.2 1386.1 1406.4 1401.9 1406.6 1368C1406.8 1334.1 1406.8 1238.2 1406.8 1190C1406.8 1141.8 1406.5 1107.1 1406.3 1078.8C1406.1 1050.5 1406 1036.5 1405.8 1020C1405.6 1003.5 1405.6 999.3 1405.2 980C1404.8 960.7 1403.9 924.1 1403.5 904C1403.1 883.9 1403 866.7 1402.9 859.2"/>
<path d="M1341.4 859.2C1342.5 869 1345.8 897.5 1348.1 917.8C1350.3 938.1 1353.2 964 1354.9 981C1356.6 998 1356.6 1004.1 1358.3 1020C1360 1035.9 1362.6 1061.2 1365.1 1076.5C1367.5 1091.8 1370.8 1104 1373 1112C1375.2 1120 1376.7 1123.5 1378.1 1124.5C1379.5 1125.5 1380.7 1120 1381.5 1118C1382.3 1116 1382.5 1117.7 1383.2 1112.7C1383.9 1107.7 1384.6 1097.6 1385.4 1087.8C1386.2 1078 1387.6 1065.3 1388.2 1054C1388.8 1042.7 1388.8 1033.1 1388.8 1020C1388.8 1006.9 1388.3 988.7 1388.5 975.4C1388.7 962.1 1389.8 959.4 1390 940C1390.2 920.6 1390 872.7 1390 859.2"/>
<path d="M1349.3 859.2C1350.3 869 1353.4 899.3 1355.5 917.8C1357.6 936.3 1360 955.5 1362 970C1364 984.5 1366 996.8 1367.5 1005C1369 1013.2 1370 1019 1371.3 1019.5C1372.6 1020 1374.2 1014.6 1375.5 1008C1376.8 1001.4 1377.8 994.7 1379 980C1380.2 965.3 1381.6 940.1 1382.5 920C1383.4 899.9 1384 869.3 1384.3 859.2"/>
<path d="M1351.5 859.2C1352.6 868 1355.8 897.2 1358 912C1360.2 926.8 1362.4 938.4 1364.5 948C1366.6 957.6 1368.8 968.6 1370.5 969.8C1372.2 971 1373.7 964.1 1375 955C1376.3 945.9 1377.3 931 1378.5 915C1379.7 899 1381.4 868.5 1382 859.2"/>
<path d="M1353.8 859.2C1354.8 865.5 1357.5 886.9 1359.5 897C1361.5 907.1 1363.8 914.5 1365.5 920C1367.2 925.5 1368.1 930 1369.5 930C1370.9 930 1372.5 925.5 1373.8 920C1375.1 914.5 1376.5 907.1 1377.5 897C1378.5 886.9 1379.6 865.5 1380 859.2"/>
<path d="M1356.3 859.2C1357.1 863 1359.5 875.4 1361 882C1362.5 888.6 1364.2 895 1365.5 899C1366.8 903 1367.4 906 1368.5 906C1369.6 906 1370.8 903 1372 899C1373.2 895 1374.9 888.6 1376 882C1377.1 875.4 1378 863 1378.4 859.2"/>
<path d="M1358.6 859.2C1359.2 861.7 1361 869.5 1362.5 874C1364 878.5 1365.7 886 1367.4 886C1369.2 886 1371.5 878.5 1373 874C1374.5 869.5 1375.8 861.7 1376.4 859.2"/>
</g>
<g stroke="#262626" stroke-opacity="0.135" stroke-width="1.1">
<line x1="1162.4" y1="861.2" x2="1162.4" y2="1457.9"/>
<line x1="1282" y1="861.2" x2="1282" y2="1457.9"/>
<line x1="1402" y1="861.2" x2="1402" y2="1457.9"/>
<line x1="1521.5" y1="861.2" x2="1521.5" y2="1457.9"/>
<line x1="1043.2" y1="981" x2="1640.5" y2="981"/>
<line x1="1043.2" y1="1100.4" x2="1640.5" y2="1100.4"/>
<line x1="1043.2" y1="1219.7" x2="1640.5" y2="1219.7"/>
<line x1="1043.2" y1="1338.6" x2="1640.5" y2="1338.6"/>
</g>
<path d="M1365.5 859.2C1366.3 872.7 1368.9 913.2 1370.5 940C1372.1 966.8 1374 997.2 1375.3 1020C1376.6 1042.8 1377.3 1059.1 1378.1 1076.5C1378.8 1093.9 1379 1105.6 1379.8 1124.5C1380.6 1143.4 1381.8 1165 1383 1190C1384.2 1215 1385.8 1246.5 1387.1 1274.7C1388.3 1303 1389.5 1328.6 1390.5 1359.5C1391.5 1390.4 1392.8 1443.2 1393.2 1459.9" fill="none" stroke="#0000ff" stroke-width="7" stroke-dasharray="7.8 5.25" stroke-dashoffset="4.8"/>
</g>
<g fill="none" stroke="#5c5c5c" stroke-width="1.3">
<rect x="1043.2" y="861.2" width="597.3" height="596.7"/>
</g><g fill="none" stroke="#5c5c5c" stroke-width="1">
<path d="M1162.4 1457.9v-5.8 M1162.4 861.2v5.8"/>
<path d="M1282 1457.9v-5.8 M1282 861.2v5.8"/>
<path d="M1402 1457.9v-5.8 M1402 861.2v5.8"/>
<path d="M1521.5 1457.9v-5.8 M1521.5 861.2v5.8"/>
<path d="M1043.2 981h5.8 M1640.5 981h-5.8"/>
<path d="M1043.2 1100.4h5.8 M1640.5 1100.4h-5.8"/>
<path d="M1043.2 1219.7h5.8 M1640.5 1219.7h-5.8"/>
<path d="M1043.2 1338.6h5.8 M1640.5 1338.6h-5.8"/>
</g>
<g font-family="'Liberation Sans', Arial, sans-serif" font-size="34.7" fill="#262626">
<text transform="translate(1043.6 1504.8) scale(1 1.04)" text-anchor="middle">0</text>
<text transform="translate(1162.8 1504.8) scale(1 1.04)" text-anchor="middle">20</text>
<text transform="translate(1282.4 1504.8) scale(1 1.04)" text-anchor="middle">40</text>
<text transform="translate(1402.4 1504.8) scale(1 1.04)" text-anchor="middle">60</text>
<text transform="translate(1521.9 1504.8) scale(1 1.04)" text-anchor="middle">80</text>
<text transform="translate(1640.9 1504.8) scale(1 1.04)" text-anchor="middle">100</text>
<text transform="translate(1033.1 875.7) scale(1 1.04)" text-anchor="end">0.25</text>
<text transform="translate(1033.1 995.5) scale(1 1.04)" text-anchor="end">0.2</text>
<text transform="translate(1033.1 1114.9) scale(1 1.04)" text-anchor="end">0.15</text>
<text transform="translate(1033.1 1234.2) scale(1 1.04)" text-anchor="end">0.1</text>
<text transform="translate(1033.1 1353.1) scale(1 1.04)" text-anchor="end">0.05</text>
<text transform="translate(1033.1 1472.4) scale(1 1.04)" text-anchor="end">0</text>
</g>
<text transform="translate(1340.8 1555.7) scale(1 1.02)" text-anchor="middle" font-family="'Liberation Sans', Arial, sans-serif" font-size="40.3" fill="#262626"><tspan font-family="'Liberation Serif', 'DejaVu Serif', serif" font-size="41" fill="#3c3c3c">Ω</tspan> (Hz)</text>
<text transform="translate(938.6 1176.6) scale(1.22 1)" text-anchor="middle" font-family="'Liberation Serif', 'DejaVu Serif', serif" font-style="italic" font-size="41" fill="#444">μ</text>
<text transform="translate(1342.1 842.9) scale(1 0.975)" text-anchor="middle" font-family="'Liberation Sans', Arial, sans-serif" font-size="42.1" fill="#000">(d) <tspan font-family="'Liberation Serif', 'DejaVu Serif', serif" font-style="italic" font-size="43" fill="#333">β</tspan> = 7<tspan font-family="'Liberation Serif', 'DejaVu Serif', serif" font-style="italic" font-size="43" fill="#333">π</tspan>/6 rad</text>
<linearGradient id="cbg4" x1="0" y1="0" x2="0" y2="1"><stop offset="0" stop-color="#fff"/><stop offset="1" stop-color="#000"/></linearGradient>
<rect x="1683.9" y="862.2" width="30" height="596.3" fill="url(#cbg4)" stroke="#6a6a6a" stroke-width="1.4"/>
<g stroke="#444" stroke-width="1.1">
<path d="M1713.9 1061h-5.6"/>
<path d="M1713.9 1259.7h-5.6"/>
</g>
<g font-family="'Liberation Sans', Arial, sans-serif" font-size="32" fill="#262626">
<text transform="translate(1722.1 874.5) scale(1 1.04)">0</text>
<text transform="translate(1722.1 1073.3) scale(1 1.04)">-5</text>
<text transform="translate(1722.1 1272) scale(1 1.04)">-10</text>
<text transform="translate(1722.1 1470.8) scale(1 1.04)">-15</text>
</g>
</svg>
</body>
</html>
